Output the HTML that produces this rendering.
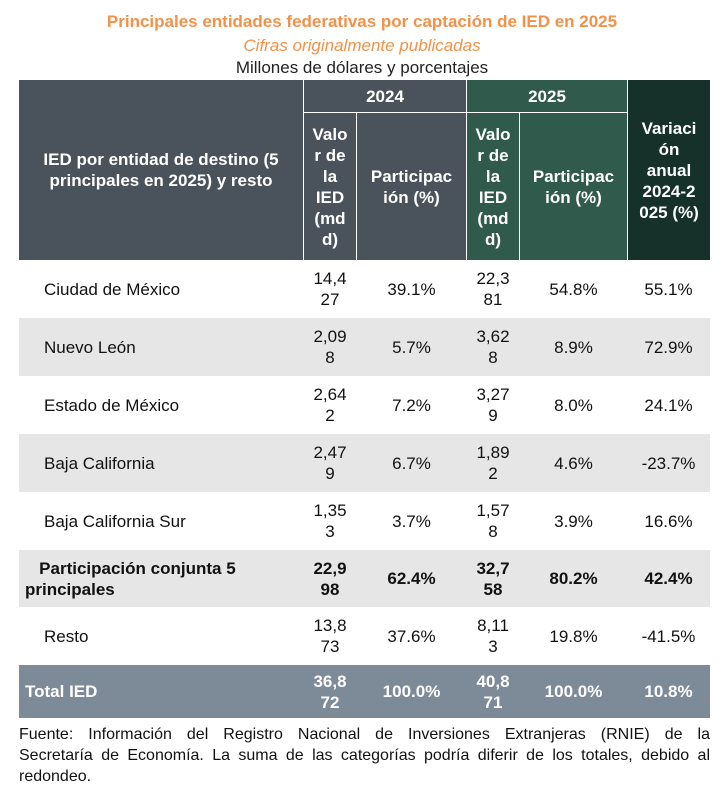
<!DOCTYPE html>
<html><head><meta charset="utf-8"><style>
body{margin:0;width:724px;height:800px;background:#fff;font-family:"Liberation Sans",Arial,sans-serif;position:relative;overflow:hidden}
.t{position:absolute;left:0;width:724px;text-align:center;font-size:17px;line-height:20px}
.c{position:absolute;display:flex;align-items:center;justify-content:center;text-align:center;font-size:17px;line-height:21px;box-sizing:border-box;color:#111;white-space:nowrap}
.h{color:#fff;font-weight:bold}
.l{justify-content:flex-start;text-align:left}
.row{position:absolute;left:19px;width:691px}
.f{position:absolute;left:19px;width:691px;font-size:16px;line-height:21px;color:#111;text-align:justify;text-align-last:justify;white-space:nowrap}
</style></head><body>
<div class="t" style="top:12px;color:#f0924a;font-weight:bold">Principales entidades federativas por captación de IED en 2025</div>
<div class="t" style="top:36px;color:#f0924a;font-style:italic">Cifras originalmente publicadas</div>
<div class="t" style="top:58px;color:#222">Millones de dólares y porcentajes</div>

<div class="c h" style="left:19px;top:80px;width:284px;height:180px;background:#4a535c">IED por entidad de destino (5<br>principales en 2025) y resto</div>
<div class="c h" style="left:303px;top:80px;width:163px;height:33px;background:#4a535c;border-left:1px solid #fff;border-bottom:1px solid #fff">2024</div>
<div class="c h" style="left:303px;top:113px;width:54px;height:147px;background:#4a535c;border-left:1px solid #fff;border-right:1px solid #fff">Valo<br>r de<br>la<br>IED<br>(md<br>d)</div>
<div class="c h" style="left:357px;top:113px;width:109px;height:147px;background:#4a535c">Participac<br>ión (%)</div>
<div class="c h" style="left:466px;top:80px;width:161px;height:33px;background:#2f5a4c;border-left:1px solid #fff;border-bottom:1px solid #fff">2025</div>
<div class="c h" style="left:466px;top:113px;width:54px;height:147px;background:#2f5a4c;border-left:1px solid #fff;border-right:1px solid #fff">Valo<br>r de<br>la<br>IED<br>(md<br>d)</div>
<div class="c h" style="left:520px;top:113px;width:107px;height:147px;background:#2f5a4c">Participac<br>ión (%)</div>
<div class="c h" style="left:627px;top:80px;width:83px;height:180px;background:#16302a;border-left:1px solid #fff">Variaci<br>ón<br>anual<br>2024-2<br>025 (%)</div>

<div class="row" style="top:318px;height:58px;background:#e6e6e6"></div>
<div class="row" style="top:434px;height:58px;background:#e6e6e6"></div>
<div class="row" style="top:550px;height:57px;background:#e6e6e6"></div>
<div class="row" style="top:665px;height:53px;background:#7d8a97"></div>

<div class="c l" style="left:44px;top:260px;width:259px;height:58px">Ciudad de México</div>
<div class="c" style="left:303px;top:260px;width:54px;height:58px">14,4<br>27</div>
<div class="c" style="left:357px;top:260px;width:109px;height:58px">39.1%</div>
<div class="c" style="left:466px;top:260px;width:54px;height:58px">22,3<br>81</div>
<div class="c" style="left:520px;top:260px;width:107px;height:58px">54.8%</div>
<div class="c" style="left:627px;top:260px;width:83px;height:58px">55.1%</div>

<div class="c l" style="left:44px;top:318px;width:259px;height:58px">Nuevo León</div>
<div class="c" style="left:303px;top:318px;width:54px;height:58px">2,09<br>8</div>
<div class="c" style="left:357px;top:318px;width:109px;height:58px">5.7%</div>
<div class="c" style="left:466px;top:318px;width:54px;height:58px">3,62<br>8</div>
<div class="c" style="left:520px;top:318px;width:107px;height:58px">8.9%</div>
<div class="c" style="left:627px;top:318px;width:83px;height:58px">72.9%</div>

<div class="c l" style="left:44px;top:376px;width:259px;height:58px">Estado de México</div>
<div class="c" style="left:303px;top:376px;width:54px;height:58px">2,64<br>2</div>
<div class="c" style="left:357px;top:376px;width:109px;height:58px">7.2%</div>
<div class="c" style="left:466px;top:376px;width:54px;height:58px">3,27<br>9</div>
<div class="c" style="left:520px;top:376px;width:107px;height:58px">8.0%</div>
<div class="c" style="left:627px;top:376px;width:83px;height:58px">24.1%</div>

<div class="c l" style="left:44px;top:434px;width:259px;height:58px">Baja California</div>
<div class="c" style="left:303px;top:434px;width:54px;height:58px">2,47<br>9</div>
<div class="c" style="left:357px;top:434px;width:109px;height:58px">6.7%</div>
<div class="c" style="left:466px;top:434px;width:54px;height:58px">1,89<br>2</div>
<div class="c" style="left:520px;top:434px;width:107px;height:58px">4.6%</div>
<div class="c" style="left:627px;top:434px;width:83px;height:58px">-23.7%</div>

<div class="c l" style="left:44px;top:492px;width:259px;height:58px">Baja California Sur</div>
<div class="c" style="left:303px;top:492px;width:54px;height:58px">1,35<br>3</div>
<div class="c" style="left:357px;top:492px;width:109px;height:58px">3.7%</div>
<div class="c" style="left:466px;top:492px;width:54px;height:58px">1,57<br>8</div>
<div class="c" style="left:520px;top:492px;width:107px;height:58px">3.9%</div>
<div class="c" style="left:627px;top:492px;width:83px;height:58px">16.6%</div>

<div class="c l" style="left:25px;top:550px;width:278px;height:57px;font-weight:bold"><div>&nbsp;&nbsp;&nbsp;Participación conjunta 5<br>principales</div></div>
<div class="c" style="left:303px;top:550px;width:54px;height:57px;font-weight:bold">22,9<br>98</div>
<div class="c" style="left:357px;top:550px;width:109px;height:57px;font-weight:bold">62.4%</div>
<div class="c" style="left:466px;top:550px;width:54px;height:57px;font-weight:bold">32,7<br>58</div>
<div class="c" style="left:520px;top:550px;width:107px;height:57px;font-weight:bold">80.2%</div>
<div class="c" style="left:627px;top:550px;width:83px;height:57px;font-weight:bold">42.4%</div>

<div class="c l" style="left:44px;top:607px;width:259px;height:58px">Resto</div>
<div class="c" style="left:303px;top:607px;width:54px;height:58px">13,8<br>73</div>
<div class="c" style="left:357px;top:607px;width:109px;height:58px">37.6%</div>
<div class="c" style="left:466px;top:607px;width:54px;height:58px">8,11<br>3</div>
<div class="c" style="left:520px;top:607px;width:107px;height:58px">19.8%</div>
<div class="c" style="left:627px;top:607px;width:83px;height:58px">-41.5%</div>

<div class="c l h" style="left:25px;top:665px;width:278px;height:53px">Total IED</div>
<div class="c h" style="left:303px;top:665px;width:54px;height:53px">36,8<br>72</div>
<div class="c h" style="left:357px;top:665px;width:109px;height:53px">100.0%</div>
<div class="c h" style="left:466px;top:665px;width:54px;height:53px">40,8<br>71</div>
<div class="c h" style="left:520px;top:665px;width:107px;height:53px">100.0%</div>
<div class="c h" style="left:627px;top:665px;width:83px;height:53px">10.8%</div>

<div class="f" style="top:724px">Fuente: Información del Registro Nacional de Inversiones Extranjeras (RNIE) de la</div>
<div class="f" style="top:745px">Secretaría de Economía. La suma de las categorías podría diferir de los totales, debido al</div>
<div class="f" style="top:766px;text-align-last:left">redondeo.</div>
</body></html>
